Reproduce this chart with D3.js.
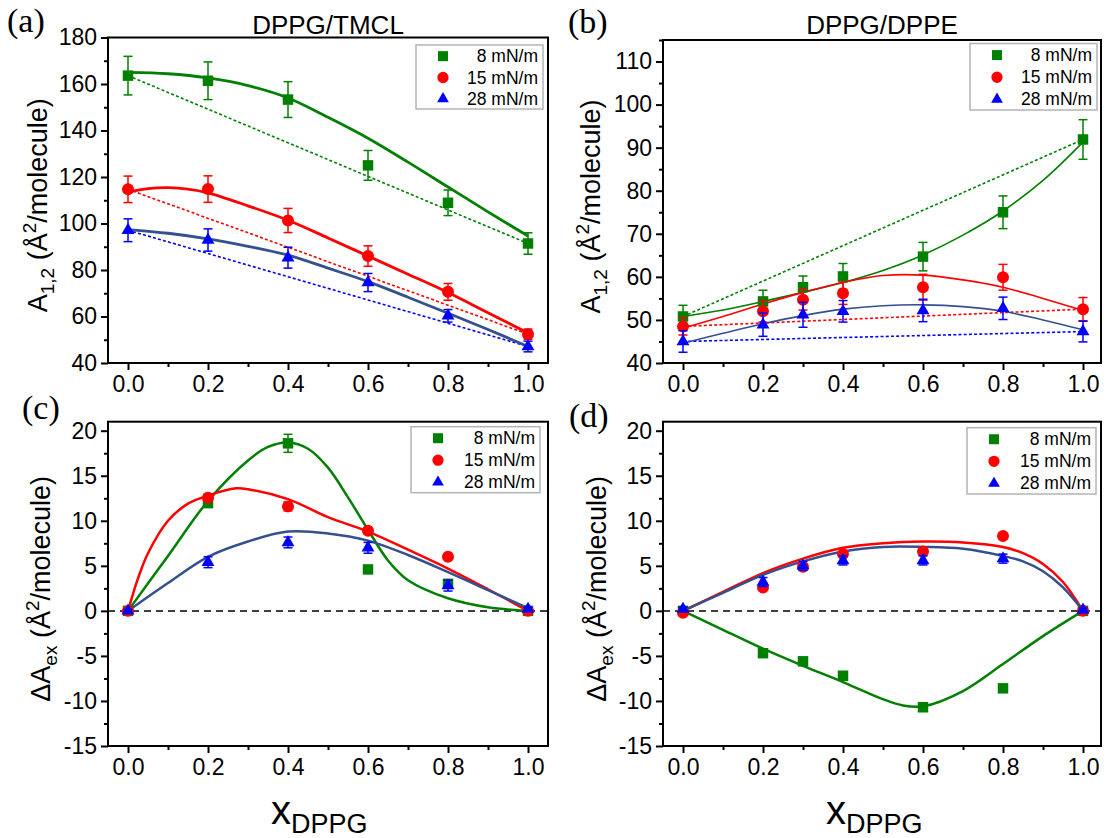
<!DOCTYPE html>
<html>
<head>
<meta charset="utf-8">
<script src="https://cdn.jsdelivr.net/npm/d3@7"></script>
<style>
  body { margin: 0; background: #fff; }
  svg { display: block; font-family: "Liberation Sans", Arial, sans-serif; }
</style>
</head>
<body>
<div id="chart"></div>
<script>
// series names (surface pressure)
const labels = ['8 mN/m', '15 mN/m', '28 mN/m'];

// measured x positions
const xA = [0, 0.2, 0.4, 0.6, 0.8, 1.0];
const xB = [0, 0.2, 0.3, 0.4, 0.6, 0.8, 1.0];

// (a) DPPG/TMCL mean molecular area
const a8 = [163.6, 161.4, 153.3, 125.0, 108.9, 91.4];
const a8Err = [8.3, 8.1, 7.7, 6.4, 5.5, 4.6];
const a15 = [114.7, 114.8, 101.3, 86.0, 70.6, 52.4];
const a15Err = [5.7, 5.7, 5.2, 4.4, 3.6, 2.2];
const a28 = [97.1, 92.9, 85.3, 74.6, 60.3, 47.1];
const a28Err = [4.9, 4.8, 4.5, 3.9, 2.7, 2.3];

// (b) DPPG/DPPE mean molecular area
const b8 = [50.8, 54.3, 57.6, 60.1, 64.7, 75.0, 91.9];
const b8Err = [2.6, 2.6, 2.6, 3.0, 3.3, 3.8, 4.6];
const b15 = [48.5, 52.0, 54.7, 56.2, 57.6, 59.9, 52.5];
const b15Err = [2.0, 2.5, 2.4, 2.6, 3.0, 3.0, 2.7];
const b28 = [45.0, 48.9, 51.2, 52.0, 52.2, 52.7, 47.3];
const b28Err = [2.5, 2.7, 2.9, 2.5, 2.6, 2.6, 2.4];

// (c) DPPG/TMCL excess area
const c8 = [0, 11.96, 18.6, 4.6, 3.0, 0];
const c8Err = [0.2, 0.4, 1.0, 0.3, 0.3, 0.2];
const c15 = [0, 12.55, 11.6, 8.9, 6.0, 0];
const c15Err = [0.2, 0.4, 0.5, 0.3, 0.3, 0.2];
const c28 = [0, 5.4, 7.6, 7.0, 2.8, 0.2];
const c28Err = [0.2, 0.6, 0.6, 0.6, 0.6, 0.2];

// (d) DPPG/DPPE excess area
const d8 = [0, -4.7, -5.6, -7.2, -10.7, -8.6, 0];
const d8Err = [0.2, 0.3, 0.3, 0.3, 0.3, 0.3, 0.2];
const d15 = [-0.2, 2.6, 4.9, 6.3, 6.6, 8.3, 0];
const d15Err = [0.2, 0.3, 0.3, 0.3, 0.3, 0.3, 0.2];
const d28 = [0.2, 3.2, 5.0, 5.6, 5.6, 5.8, 0.1];
const d28Err = [0.2, 0.5, 0.5, 0.5, 0.5, 0.5, 0.2];

// fitted curves
const fitX = [0, 0.1, 0.2, 0.3, 0.4, 0.5, 0.6, 0.7, 0.8, 0.9, 1.0];
const a8Fit = [165, 164.4, 162.6, 159.3, 154, 145.7, 136.7, 126.4, 115.7, 105, 94.6];
const a15FitX = [0, 0.05, 0.1, 0.15, 0.2, 0.3, 0.4, 0.5, 0.6, 0.7, 0.8, 0.9, 1.0];
const a15Fit = [113.5, 115, 115.4, 114.8, 113.2, 107.6, 101.4, 93.8, 86, 78.2, 70.3, 61.6, 52.9];
const a28Fit = [97.4, 95.8, 93.4, 90.2, 86.4, 80.8, 75, 68.3, 61.4, 54.4, 47.1];

const b8Fit = [50.8, 52.3, 54.3, 56.4, 58.7, 61.5, 65.1, 69.7, 75.3, 82.4, 91.3];
const b15Fit = [48.1, 50.8, 53.7, 56.4, 58.7, 60.3, 60.4, 59.3, 57.6, 55.0, 52.2];
const b28Fit = [44.6, 46.9, 49.1, 51.0, 52.5, 53.3, 53.5, 53.1, 52.0, 50.0, 47.7];

const c8FitX = [0, 0.1, 0.2, 0.3, 0.35, 0.4, 0.45, 0.5, 0.55, 0.6, 0.65, 0.7, 0.8, 0.9, 1.0];
const c8Fit = [0, 6.1, 12.2, 16.7, 18.2, 18.7, 18.0, 15.9, 12.6, 9.0, 5.6, 3.4, 1.4, 0.4, 0];
const c15FitX = [0, 0.025, 0.05, 0.1, 0.15, 0.2, 0.27, 0.3, 0.4, 0.5, 0.6, 0.7, 0.8, 0.9, 1.0];
const c15Fit = [0, 3.6, 6.4, 10.0, 11.9, 12.8, 13.6, 13.5, 12.4, 10.4, 8.8, 6.8, 4.7, 2.4, 0];
const c28Fit = [0, 3.1, 6.0, 7.7, 8.8, 8.6, 7.8, 6.2, 4.3, 2.3, 0.3];

const dFitX = [0, 0.1, 0.2, 0.3, 0.4, 0.5, 0.6, 0.7, 0.8, 0.85, 0.9, 0.95, 1.0];
const d15Fit = [0, 2.1, 4.2, 5.8, 7.0, 7.5, 7.7, 7.6, 7.1, 6.4, 5.2, 3.2, 0];
const d28Fit = [0, 2.0, 4.0, 5.5, 6.6, 7.1, 7.1, 6.9, 6.1, 5.5, 4.4, 2.6, 0];
const d8FitX = [0, 0.1, 0.2, 0.3, 0.4, 0.5, 0.55, 0.6, 0.7, 0.8, 0.9, 1.0];
const d8Fit = [0, -2.1, -4.2, -6.1, -7.9, -9.8, -10.5, -10.6, -8.9, -5.9, -2.8, 0];

// styles
const pointColors = ['#008000', '#ff0000', '#0000ff'];
const fitColors = ['#008000', '#ff0000', '#34508f'];
const shapes = [d3.symbolSquare, d3.symbolCircle, d3.symbolTriangle];
const shapeSizes = [110, 113, 72];

const W = 1106, H = 838;
const svg = d3.select('#chart').append('svg').attr('width', W).attr('height', H);

const panels = [
  { letter: '(a)', letterPos: [7, 32], title: 'DPPG/TMCL', box: { l: 108, r: 548, t: 37.5, b: 363 },
    xDomain: [-0.05, 1.05], yDomain: [40, 180], yMajor: d3.range(40, 181, 20), yMinor: d3.range(50, 180, 20),
    x: xA, ys: [a8, a15, a28], errs: [a8Err, a15Err, a28Err],
    fits: [[fitX, a8Fit], [a15FitX, a15Fit], [fitX, a28Fit]], fitWidth: 2.8, dotted: true, zero: false,
    yLabel: 'area', yLabelX: 47, legend: { l: 416, r: 543, t: 45, b: 109 } },
  { letter: '(b)', letterPos: [568, 33], title: 'DPPG/DPPE', box: { l: 663, r: 1101, t: 40, b: 363 },
    xDomain: [-0.05, 1.045], yDomain: [40, 115], yMajor: d3.range(40, 111, 10), yMinor: d3.range(45, 116, 10),
    x: xB, ys: [b8, b15, b28], errs: [b8Err, b15Err, b28Err],
    fits: [[fitX, b8Fit], [fitX, b15Fit], [fitX, b28Fit]], fitWidth: 1.6, dotted: true, zero: false,
    yLabel: 'area', yLabelX: 600, legend: { l: 970, r: 1097, t: 43.5, b: 110 } },
  { letter: '(c)', letterPos: [22, 419], title: null, box: { l: 108, r: 548, t: 421.7, b: 746 },
    xDomain: [-0.05, 1.05], yDomain: [-15, 21], yMajor: d3.range(-15, 21, 5), yMinor: d3.range(-12.5, 20, 5),
    x: xA, ys: [c8, c15, c28], errs: [c8Err, c15Err, c28Err],
    fits: [[c8FitX, c8Fit], [c15FitX, c15Fit], [fitX, c28Fit]], fitWidth: 2.5, dotted: false, zero: true,
    yLabel: 'excess', yLabelX: 50, legend: { l: 411, r: 540, t: 426.7, b: 492.7 }, xLabel: 271 },
  { letter: '(d)', letterPos: [569, 427], title: null, box: { l: 663, r: 1101, t: 421.7, b: 746 },
    xDomain: [-0.05, 1.045], yDomain: [-15, 21], yMajor: d3.range(-15, 21, 5), yMinor: d3.range(-12.5, 20, 5),
    x: xB, ys: [d8, d15, d28], errs: [d8Err, d15Err, d28Err],
    fits: [[d8FitX, d8Fit], [dFitX, d15Fit], [dFitX, d28Fit]], fitWidth: 2.5, dotted: false, zero: true,
    yLabel: 'excess', yLabelX: 606, legend: { l: 967, r: 1096, t: 427.7, b: 494 }, xLabel: 826 }
];

panels.forEach(drawPanel);

function drawPanel(p) {
  const bx = p.box;
  const x = d3.scaleLinear().domain(p.xDomain).range([bx.l, bx.r]);
  const y = d3.scaleLinear().domain(p.yDomain).range([bx.b, bx.t]);
  const g = svg.append('g');

  // axes: major + minor ticks, outward, left and bottom only
  const fmtX = d3.format('.1f');
  const xMajor = [0, 0.2, 0.4, 0.6, 0.8, 1.0];
  const xMinor = [0.1, 0.3, 0.5, 0.7, 0.9];
  g.append('g').attr('transform', `translate(0,${bx.b})`)
    .call(d3.axisBottom(x).tickValues(xMajor).tickFormat(fmtX).tickSize(7).tickPadding(6));
  g.append('g').attr('transform', `translate(0,${bx.b})`)
    .call(d3.axisBottom(x).tickValues(xMinor).tickFormat('').tickSize(4));
  const yAxis = g.append('g').attr('transform', `translate(${bx.l},0)`)
    .call(d3.axisLeft(y).tickValues(p.yMajor).tickFormat(d3.format('d')).tickSize(7).tickPadding(4));
  g.append('g').attr('transform', `translate(${bx.l},0)`)
    .call(d3.axisLeft(y).tickValues(p.yMinor.filter(v => v <= p.yDomain[1])).tickFormat('').tickSize(4));
  g.selectAll('.domain').remove();
  g.selectAll('.tick line').attr('stroke', '#000').attr('stroke-width', 2);
  g.selectAll('.tick text').attr('fill', '#000').style('font-size', '23px')
    .style('font-family', '"Liberation Sans", Arial, sans-serif');
  yAxis.selectAll('.tick text').text(d => d < 0 ? '-' + Math.abs(d) : d);

  const clipId = 'clip' + p.letter.replace(/\W/g, '');
  svg.append('clipPath').attr('id', clipId).append('rect')
    .attr('x', bx.l).attr('y', bx.t).attr('width', bx.r - bx.l).attr('height', bx.b - bx.t);
  const plot = g.append('g').attr('clip-path', `url(#${clipId})`);

  if (p.zero) {
    plot.append('line').attr('x1', bx.l).attr('x2', bx.r).attr('y1', y(0)).attr('y2', y(0))
      .attr('stroke', '#000').attr('stroke-width', 1.5).attr('stroke-dasharray', '7,5');
  }

  // ideal mixing lines
  if (p.dotted) {
    p.ys.forEach((ys, i) => {
      plot.append('line')
        .attr('x1', x(p.x[0])).attr('y1', y(ys[0]))
        .attr('x2', x(p.x[p.x.length - 1])).attr('y2', y(ys[ys.length - 1]))
        .attr('stroke', pointColors[i]).attr('stroke-width', 1.6).attr('stroke-dasharray', '3,2.2');
    });
  }

  // fitted curves
  const line = d3.line().x(d => x(d[0])).y(d => y(d[1])).curve(d3.curveCatmullRom.alpha(0.5));
  p.fits.forEach((f, i) => {
    plot.append('path').datum(f[0].map((v, k) => [v, f[1][k]]))
      .attr('d', line).attr('fill', 'none')
      .attr('stroke', fitColors[i]).attr('stroke-width', p.fitWidth);
  });

  // error bars and markers
  p.ys.forEach((ys, i) => {
    const pts = p.x.map((v, k) => ({ x: v, y: ys[k], e: p.errs[i][k] }));
    const eg = g.append('g').attr('stroke', pointColors[i]).attr('stroke-width', 1.5);
    pts.forEach(d => {
      const cx = x(d.x);
      eg.append('line').attr('x1', cx).attr('x2', cx).attr('y1', y(d.y - d.e)).attr('y2', y(d.y + d.e));
      [d.y - d.e, d.y + d.e].forEach(v => {
        eg.append('line').attr('x1', cx - 4.5).attr('x2', cx + 4.5).attr('y1', y(v)).attr('y2', y(v));
      });
    });
    g.append('g').selectAll('path').data(pts).join('path')
      .attr('transform', d => `translate(${x(d.x)},${y(d.y)})`)
      .attr('d', d3.symbol().type(shapes[i]).size(shapeSizes[i]))
      .attr('fill', pointColors[i]);
  });

  // frame
  g.append('rect').attr('x', bx.l).attr('y', bx.t).attr('width', bx.r - bx.l).attr('height', bx.b - bx.t)
    .attr('fill', 'none').attr('stroke', '#000').attr('stroke-width', 2);

  // legend
  const L = p.legend;
  const lg = g.append('g');
  lg.append('rect').attr('x', L.l).attr('y', L.t).attr('width', L.r - L.l).attr('height', L.b - L.t)
    .attr('fill', '#fff').attr('stroke', '#b4b4b4').attr('stroke-width', 1.5);
  const rowH = (L.b - L.t) / 3;
  labels.forEach((lab, i) => {
    const cy = L.t + rowH * (i + 0.5) + 0.5;
    lg.append('path').attr('transform', `translate(${L.l + 27},${cy})`)
      .attr('d', d3.symbol().type(shapes[i]).size(i === 2 ? 60 : 100)).attr('fill', pointColors[i]);
    lg.append('text').attr('x', L.r - 5).attr('y', cy + 6).attr('text-anchor', 'end')
      .style('font-size', '17.5px').text(lab);
  });

  // panel letter
  svg.append('text').attr('x', p.letterPos[0]).attr('y', p.letterPos[1])
    .style('font-family', '"Liberation Serif", "Times New Roman", serif').style('font-size', '34px')
    .text(p.letter);

  if (p.title) {
    svg.append('text').attr('x', (bx.l + bx.r) / 2).attr('y', 34).attr('text-anchor', 'middle')
      .style('font-size', '26px').text(p.title);
  }

  // y label
  const cyl = (bx.t + bx.b) / 2 + 5;
  const yl = svg.append('text').attr('transform', `translate(${p.yLabelX},${cyl}) rotate(-90)`)
    .attr('text-anchor', 'middle').style('font-size', '27px');
  if (p.yLabel === 'area') {
    yl.append('tspan').text('A');
    yl.append('tspan').attr('dy', 7).style('font-size', '19px').text('1,2');
    yl.append('tspan').attr('dy', -7).text(' (Å');
  } else {
    yl.append('tspan').text('ΔA');
    yl.append('tspan').attr('dy', 7).style('font-size', '19px').text('ex');
    yl.append('tspan').attr('dy', -7).text(' (Å');
  }
  yl.append('tspan').attr('dy', -11).style('font-size', '19px').text('2');
  yl.append('tspan').attr('dy', 11).text('/molecule)');

  // x label
  if (p.xLabel) {
    const xl = svg.append('text').attr('x', p.xLabel).attr('y', 824);
    xl.append('tspan').style('font-size', '40px').text('x');
    xl.append('tspan').attr('dy', 9).style('font-size', '27px').text('DPPG');
  }
}
</script>
</body>
</html>
